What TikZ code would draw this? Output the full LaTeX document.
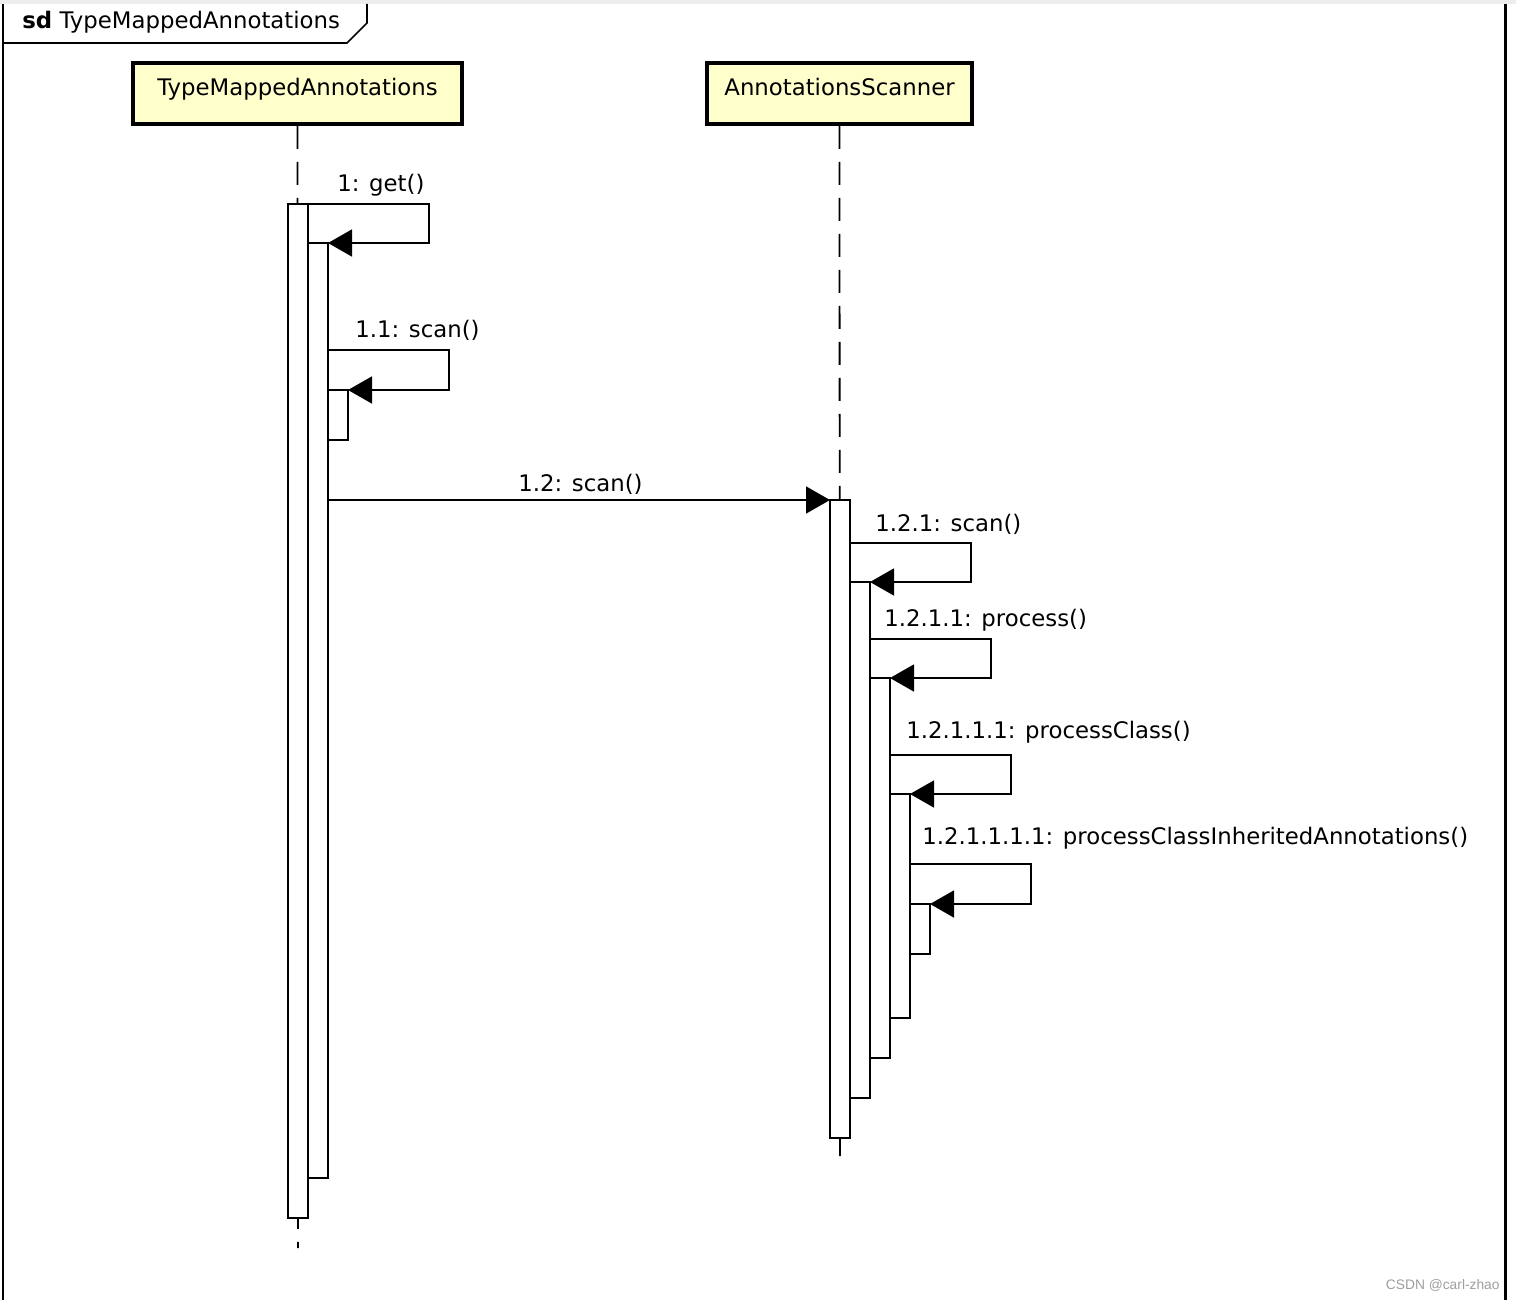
\documentclass[tikz,border=0pt]{standalone}
\usepackage{fontspec}
\setmainfont{DejaVu Sans}
\newfontfamily\markfont{Liberation Sans}
\usetikzlibrary{arrows.meta}

\definecolor{headfill}{RGB}{255,255,204}

\begin{document}
\begin{tikzpicture}[x=0.5pt, y=-0.5pt, every node/.style={font=\fontsize{11.4}{13}\selectfont}, >={Triangle[length=12pt, width=13.5pt]},
	head/.style={draw, line width=1.9pt, fill=headfill, minimum height=30.5pt, inner sep=0pt, text height=8.5pt, text depth=6.75pt},
	act/.style={draw, fill=white, line width=1.1pt, minimum width=10pt, minimum height={#1*0.5pt}, inner sep=0pt, outer sep=0pt, anchor=north west},
	lifeline/.style={line width=0.9pt, dash pattern=on 11.5pt off 6.5pt},
	msg/.style={->, line width=0.75pt},
	lbl/.style={anchor=west, inner sep=0pt}]
	\useasboundingbox (0,0) rectangle (1516,1300);
	\fill[black!7] (0,0) rectangle (1516,4);
	% frame and its tab
	\draw[line width=0.8pt] (3,1300) -- (3,4);
	\draw[line width=1.5pt] (1505,4) -- (1505,1300);
	\draw[line width=0.8pt] (3,43) -- (347,43) -- (367,23) -- (367,4);
	\node[lbl] (sdtitle) at (22,22) {\textbf{sd} TypeMappedAnnotations};
	% lifeline heads
	\node[head, minimum width=164.5pt] (h1) at (297.5,93.5) {TypeMappedAnnotations};
	\node[head, minimum width=132.5pt] (h2) at (839.5,93.5) {AnnotationsScanner};
	\coordinate (l1end) at (298,1248);
	\coordinate (l2end) at (840,1156);
	\draw[lifeline] (h1.south) -- (l1end);
	\draw[lifeline] (h2.south) -- (l2end);
	% activations
	\node[act=1014] (a1) at (288,204) {};
	\node[act=935] (a2) at (308,243) {};
	\node[act=50] (a3) at (328,390) {};
	\node[act=638] (b1) at (830,500) {};
	\node[act=516] (b2) at (850,582) {};
	\node[act=380] (b3) at (870,678) {};
	\node[act=224] (b4) at (890,794) {};
	\node[act=50] (b5) at (910,904) {};
	% messages
	\coordinate (s11) at (328,350);
	\coordinate (s12) at (328,500);
	\coordinate (s121) at (850,543);
	\coordinate (s1211) at (870,639);
	\coordinate (s12111) at (890,755);
	\coordinate (s121111) at (910,864);
	\draw[msg] (a1.north east) -- ++(121,0) |- (a2.north east);
	\draw[msg] (s11) -- ++(121,0) |- (a3.north east);
	\draw[msg] (s12) -- (b1.north west);
	\draw[msg] (s121) -- ++(121,0) |- (b2.north east);
	\draw[msg] (s1211) -- ++(121,0) |- (b3.north east);
	\draw[msg] (s12111) -- ++(121,0) |- (b4.north east);
	\draw[msg] (s121111) -- ++(121,0) |- (b5.north east);
	\node[lbl] (lget) at (337,185) {1: get()};
	\node[lbl] (lscan) at (355,330) {1.1: scan()};
	\node[lbl] (lscanb) at (518,484) {1.2: scan()};
	\node[lbl] (lscanc) at (875,524) {1.2.1: scan()};
	\node[lbl] (lproc) at (884,620) {1.2.1.1: process()};
	\node[lbl] (lclass) at (906,732) {1.2.1.1.1: processClass()};
	\node[lbl] (linher) at (922,838) {1.2.1.1.1.1: processClassInheritedAnnotations()};
	\node[anchor=east, inner sep=0pt, text=black!38, font=\markfont\fontsize{6.9}{8}\selectfont] (mark) at (1500,1285) {CSDN @carl-zhao};
\end{tikzpicture}
\end{document}
